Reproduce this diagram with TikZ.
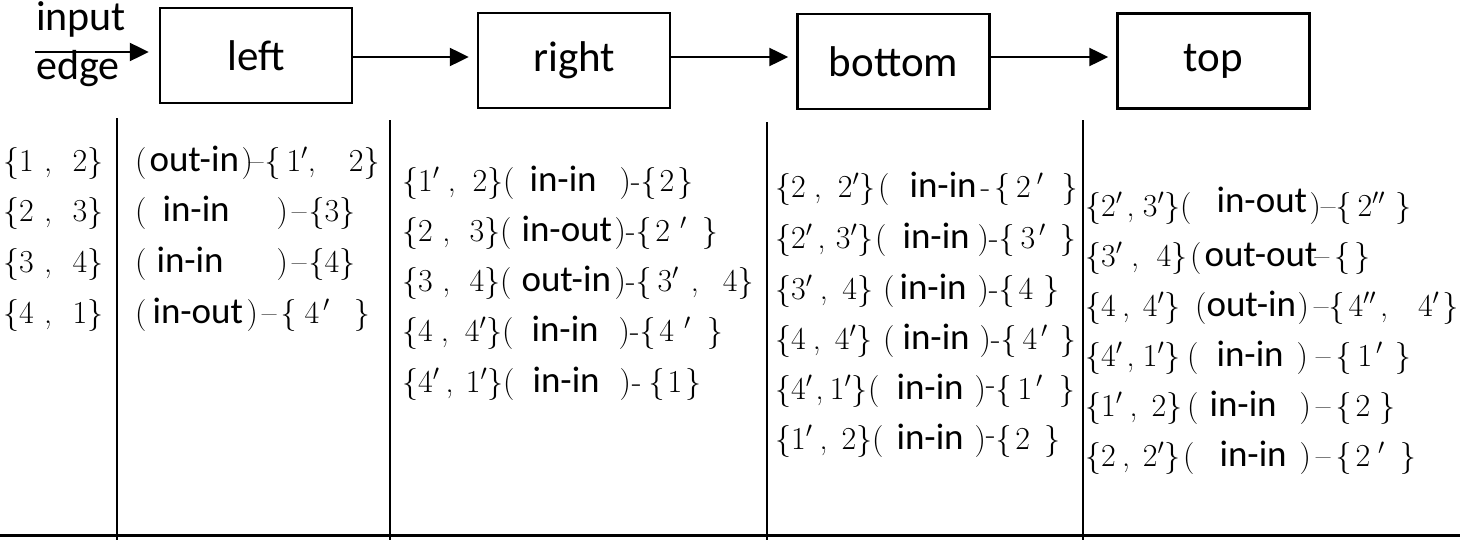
\RequirePackage{fix-cm}
\documentclass[tikz,border=0pt]{standalone}
\usepackage{fontspec}
\newfontfamily\carlito{Carlito}
\usetikzlibrary{arrows.meta}
\newcommand\io[1]{{\carlito\fontsize{37}{40}\selectfont #1}}
\newcommand\pr[3]{\makebox[#1pt][s]{\{#2\hfill,\hfill\hfill#3\}}}
\newcommand\grp[3]{(\makebox[#1pt][l]{\hspace{#2pt}\io{#3}}}
\begin{document}
\begin{tikzpicture}[x=1pt,y=-1pt,
  stage/.style={draw,line width=2.5pt,minimum width=192pt,minimum height=95pt,font=\carlito\fontsize{43}{46}\selectfont},
  flow/.style={-{Triangle[length=19pt,width=18pt]},line width=2.5pt,shorten >=8pt},
  sepline/.style={line width=2pt},
  pair/.style={anchor=base west,inner sep=0pt,font=\fontsize{32}{36}\selectfont}]
\useasboundingbox (0,0) rectangle (1464,543);
\node[stage] (left) at (256,55.5) {left};
\node[stage] (right) at (574,60.5) {right};
\node[stage] (bottom) at (893.5,61.5) {bottom};
\node[stage] (top) at (1213.5,61) {top};
\coordinate (inp) at (35,52);
\coordinate (ay) at (0,57);
\draw[flow,shorten >=10pt] (inp) -- (inp -| left.west);
\node[anchor=base west,inner sep=0pt,font=\carlito\fontsize{42}{44}\selectfont] (input) at (36,31) {input};
\node[anchor=base west,inner sep=0pt,font=\carlito\fontsize{42}{44}\selectfont] (edge) at (36,80) {edge};
\draw[flow] (left.east |- ay) -- (right.west |- ay);
\draw[flow] (right.east |- ay) -- (bottom.west |- ay);
\draw[flow] (bottom.east |- ay) -- (top.west |- ay);
\coordinate (s1) at (117,118);
\coordinate (s2) at (390,120);
\coordinate (s3) at (767,122);
\coordinate (s4) at (1083,120);
\coordinate (e) at (0,540);
\coordinate (b0) at (0,535);
\coordinate (b1) at (1460,535);
\draw[sepline] (s1) -- (s1 |- e);
\draw[sepline] (s2) -- (s2 |- e);
\draw[sepline] (s3) -- (s3 |- e);
\draw[sepline] (s4) -- (s4 |- e);
\draw[line width=3pt] (b0) -- (b1);
\node[pair] (a1) at (3,171) {\pr{100}{1}{2}};
\node[pair] (a2) at (3,221) {\pr{100}{2}{3}};
\node[pair] (a3) at (3,272) {\pr{100}{3}{4}};
\node[pair] (a4) at (3,323) {\pr{100}{4}{1}};
\node[pair] (l1) at (135,171) {\grp{95}{3}{out-in})\hspace{-4pt}--\hspace{1pt}\{\hspace{6pt}$1'$,\hspace{33pt}2\}};
\node[pair] (l2) at (135,221) {\grp{130}{16}{in-in})\hspace{4pt}--\hspace{2pt}\{3\}};
\node[pair] (l3) at (135,272) {\grp{130}{10}{in-in})\hspace{4pt}--\hspace{2pt}\{4\}};
\node[pair] (l4) at (135,323) {\grp{100}{6}{in-out})\hspace{4pt}--\hspace{4pt}\{\hspace{8pt}4\hspace{4pt}$'$\hspace{24pt}\}};
\node[pair] (r1) at (402,191) {\pr{101}{$1'$}{2}\grp{105}{15}{in-in})-\{\hspace{3pt}2\hspace{3pt}\}};
\node[pair] (r2) at (402,241) {\pr{98}{2}{3}\grp{103}{10}{in-out})-\{\hspace{4pt}2\hspace{10pt}$'$\hspace{15pt}\}};
\node[pair] (r3) at (402,291) {\pr{98}{3}{4}\grp{103}{10}{out-in})-\{\hspace{6pt}$3'$\hspace{12pt},\hspace{24pt}4\}};
\node[pair] (r4) at (402,341) {\pr{100}{4}{$4'$}\grp{105}{18}{in-in})-\{\hspace{4pt}4\hspace{10pt}$'$\hspace{16pt}\}};
\node[pair] (r5) at (402,392) {\pr{101}{$4'$}{$1'$}\grp{105}{18}{in-in})\hspace{1pt}-\hspace{7pt}\{\hspace{3pt}1\hspace{3pt}\}};
\node[pair] (b1) at (775,197) {\pr{100}{2}{$2'$}\hspace{3pt}\grp{93}{20}{in-in}\hspace{-2pt}-\hspace{4pt}\{\hspace{6pt}2\hspace{6pt}$'$\hspace{18pt}\}};
\node[pair] (b2) at (775,248) {\pr{98}{$2'$}{$3'$}\hspace{2pt}\grp{91}{16}{in-in})-\{\hspace{6pt}3\hspace{4pt}$'$\hspace{14pt}\}};
\node[pair] (b3) at (775,299) {\pr{98}{$3'$}{4}\hspace{10pt}\grp{83}{5}{in-in})-\{\hspace{4pt}4\hspace{10pt}\}};
\node[pair] (b4) at (775,349) {\pr{97}{4}{$4'$}\hspace{11pt}\grp{85}{8}{in-in})-\{\hspace{6pt}4\hspace{4pt}$'$\hspace{12pt}\}};
\node[pair] (b5) at (775,399) {\pr{92}{$4'$}{$1'$}\hspace{1pt}\grp{95}{17}{in-in})\raisebox{5pt}{-}\{\hspace{6pt}1\hspace{4pt}$'$\hspace{16pt}\}};
\node[pair] (b6) at (775,449) {\pr{97}{$1'$}{2}\grp{91}{13}{in-in})\raisebox{5pt}{-}\{\hspace{4pt}2\hspace{14pt}\}};
\node[pair] (t1) at (1085,216) {\pr{95}{$2'$}{$3'$}(\makebox[118pt][l]{\hspace{25pt}\raisebox{4pt}{\io{in-out}}})--\{\hspace{6pt}$2''$\hspace{10pt}\}};
\node[pair] (t2) at (1085,266) {\pr{102}{$3'$}{4}\hspace{3pt}\grp{113}{3}{out-out}--\hspace{5pt}\{\hspace{4pt}\}};
\node[pair] (t3) at (1085,316) {\pr{95}{4}{$4'$}\hspace{15pt}\grp{91}{0}{out-in})\hspace{5pt}--\{\hspace{4pt}$4''$\hspace{4pt},\hspace{30pt}$4'$\hspace{3pt}\}};
\node[pair] (t4) at (1085,366) {\pr{95}{$4'$}{$1'$}\hspace{7pt}\grp{98}{18}{in-in})\hspace{8pt}--\hspace{5pt}\{\hspace{6pt}1\hspace{4pt}$'$\hspace{12pt}\}};
\node[pair] (t5) at (1085,416) {\pr{97}{$1'$}{2}\hspace{5pt}\grp{101}{11}{in-in})\hspace{5pt}--\hspace{5pt}\{\hspace{4pt}2\hspace{9pt}\}};
\node[pair] (t6) at (1085,466) {\pr{95}{2}{$2'$}\hspace{3pt}\grp{105}{25}{in-in})\hspace{5pt}--\hspace{5pt}\{\hspace{4pt}2\hspace{8pt}$'$\hspace{15pt}\}};
\end{tikzpicture}
\end{document}
